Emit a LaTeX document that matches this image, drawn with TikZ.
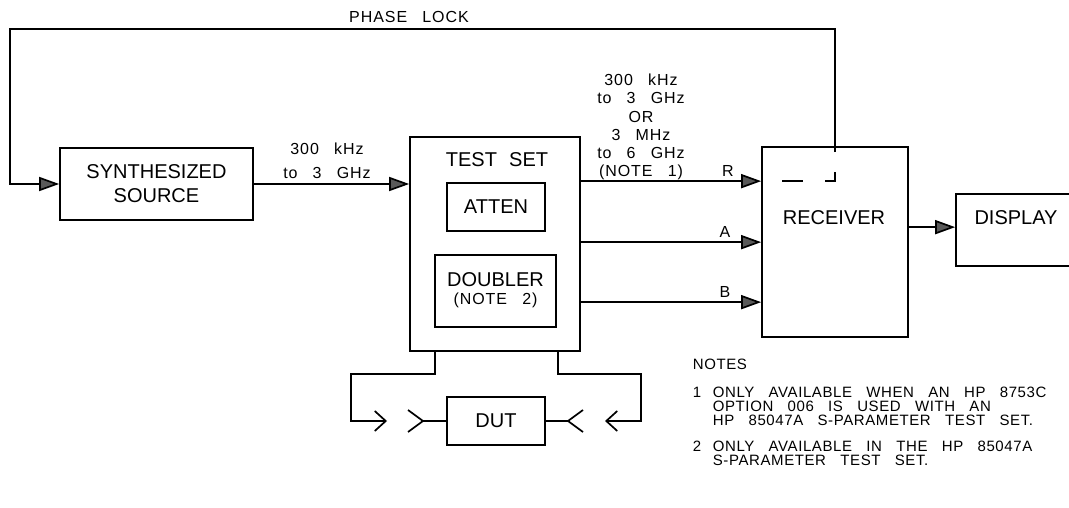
\documentclass[tikz,border=0pt]{standalone}
\usepackage{fontspec}
\setmainfont{Liberation Sans}
\newfontfamily\bigfam[WordSpace={2.2,0,0}]{Liberation Sans}
\newfontfamily\smallfam[WordSpace={2.8,0,0},LetterSpace=6]{Liberation Sans}
\newfontfamily\notefam[WordSpace={3.0,0,0},LetterSpace=4]{Liberation Sans}
\usetikzlibrary{arrows.meta,calc}
\begin{document}
\begin{tikzpicture}[x=1pt,y=-1pt,line width=1.7pt,
  big/.style={font=\bigfam\fontsize{20}{24}\selectfont},
  small/.style={font=\smallfam\fontsize{16}{18.2}\selectfont},
  notefont/.style={font=\notefam\fontsize{15}{14}\selectfont},
  blk/.style={draw,inner sep=0pt},
  lbl/.style={inner sep=0pt},
  sig/.style={-{Triangle[length=20pt,width=14pt,fill=black!65]}},
  port/.style={-{Straight Barb[length=11pt,width=20pt]}}
]
\useasboundingbox (0,0) rectangle (1069,508);

% blocks
\node[blk,big,align=center,minimum width=193pt,minimum height=72pt] (synth) at (156.5,184) {SYNTHESIZED\\SOURCE};
\node[blk,minimum width=170pt,minimum height=214pt] (testset) at (495,244) {};
\node[lbl,big] (tslabel) at (497,160) {TEST SET};
\node[blk,big,minimum width=98pt,minimum height=48pt] (atten) at (496,207) {ATTEN};
\node[blk,minimum width=121pt,minimum height=72pt] (doubler) at (495.5,291) {};
\node[lbl,big] (dbl1) at (495.5,280) {DOUBLER};
\node[lbl,small] (dbl2) at (495.5,300) {(NOTE 2)};
\node[blk,minimum width=146pt,minimum height=190pt] (receiver) at (835,242) {};
\node[lbl,big] (rxlabel) at (834,218) {RECEIVER};
\node[blk,minimum width=134pt,minimum height=72pt] (display) at (1023,230) {};
\node[lbl,big] (dsplabel) at (1016,218) {DISPLAY};
\node[blk,big,minimum width=98pt,minimum height=48pt] (dut) at (496,421) {DUT};

% phase lock
\coordinate (pl) at ($(receiver.north)+(0,6)$);
\draw[sig] (pl) |- (10,29) |- (synth.west);
\node[lbl,small] (phlabel) at (409,17) {PHASE LOCK};
% corner mark inside receiver
\draw ($(receiver.north)+(0,26)$) -- ++(0,9) -- ++(-10,0);
\draw ($(receiver.north)+(-53,35)$) -- ++(21,0);

% source to test set
\draw[sig] (synth.east) -- (synth.east -| testset.west);
\node[lbl,small,align=center] (f1) at (327,161) {300 kHz\\[6pt]to 3 GHz};

% test set to receiver
\coordinate (rR) at ($(testset.north east)+(0,45)$);
\coordinate (rA) at ($(testset.north east)+(0,106)$);
\coordinate (rB) at ($(testset.north east)+(0,166)$);
\draw[sig] (rR) -- (rR -| receiver.west);
\draw[sig] (rA) -- (rA -| receiver.west);
\draw[sig] (rB) -- (rB -| receiver.west);
\node[lbl,small,align=center] (f2) at (641,127) {300 kHz\\to 3 GHz\\OR\\3 MHz\\to 6 GHz\\(NOTE 1)};
\node[lbl,small] (lR) at (728,171) {R};
\node[lbl,small] (lA) at (725,232) {A};
\node[lbl,small] (lB) at (725,292) {B};

% receiver to display
\coordinate (rxo) at ($(receiver.north east)+(0,81)$);
\draw[sig] (rxo) -- (rxo -| display.west);

% test set ports to DUT
\coordinate (pL) at (387,421);
\coordinate (pR) at (605,421);
\draw[port] ($(testset.south west)+(26,0)$) -- ++(0,22) -| (351,421) -- (pL);
\draw[port] ($(testset.south east)+(-23,0)$) -- ++(0,22) -| (641,421) -- (pR);
\coordinate (cL) at (423,421);
\coordinate (cR) at (568,421);
\draw (dut.west) -- (cL);
\draw (dut.east) -- (cR);
\draw ($(cL)+(-15,-11)$) -- (cL) -- ($(cL)+(-15,11)$);
\draw ($(cR)+(15,-11)$) -- (cR) -- ($(cR)+(15,11)$);

% notes
\node[lbl,notefont,anchor=base west] (nt) at (692,369.5) {NOTES};
\node[lbl,notefont,anchor=base west] (n1) at (692,397.5) {1};
\node[lbl,notefont,anchor=base west] (n1a) at (712,397.5) {ONLY AVAILABLE WHEN AN HP 8753C};
\node[lbl,notefont,anchor=base west] (n1b) at (712,411.5) {OPTION 006 IS USED WITH AN};
\node[lbl,notefont,anchor=base west] (n1c) at (712,425.5) {HP 85047A S-PARAMETER TEST SET.};
\node[lbl,notefont,anchor=base west] (n2) at (692,451.5) {2};
\node[lbl,notefont,anchor=base west] (n2a) at (712,451.5) {ONLY AVAILABLE IN THE HP 85047A};
\node[lbl,notefont,anchor=base west] (n2b) at (712,465.5) {S-PARAMETER TEST SET.};
\end{tikzpicture}
\end{document}
